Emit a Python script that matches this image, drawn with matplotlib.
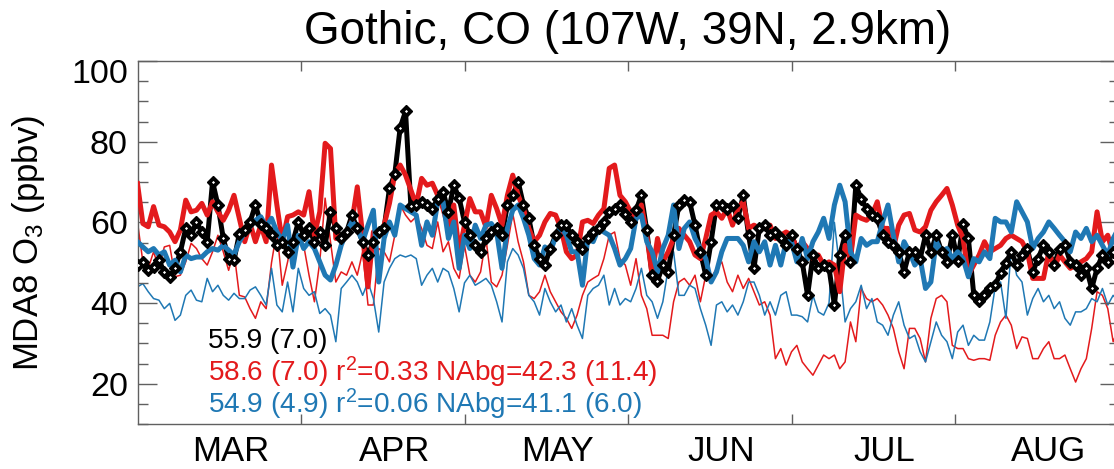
import numpy as np
import matplotlib
matplotlib.use("Agg")
import matplotlib.pyplot as plt
import matplotlib.transforms as mtransforms
from matplotlib.ticker import MultipleLocator, FixedLocator

plt.rcParams['font.family'] = ['Liberation Sans', 'DejaVu Sans']
plt.rcParams['mathtext.fontset'] = 'custom'
plt.rcParams['mathtext.rm'] = 'Liberation Sans'
plt.rcParams['mathtext.it'] = 'Liberation Sans:italic'
plt.rcParams['mathtext.bf'] = 'Liberation Sans:bold'

# daily MDA8 O3 (ppbv), 1 Mar - 31 Aug
obs = [49.4, 50.2, 48.1, 49.0, 50.6, 47.7, 46.5, 48.6, 52.7, 58.5, 56.8, 60.1, 57.6, 55.2, 70.1,
       64.3, 56.0, 51.0, 50.6, 57.2, 58.1, 60.1, 64.3, 59.7, 58.5, 56.8, 54.3, 55.2, 52.7, 55.2,
       60.1, 56.8, 58.5, 55.2, 57.6, 54.3, 62.6, 58.5, 56.0, 57.6, 61.8, 58.5, 55.2, 51.9, 55.2,
       57.6, 58.5, 68.4, 72.0, 83.5, 87.5, 64.0, 64.3, 65.1, 64.3, 63.4, 65.9, 67.6, 62.6, 69.2,
       66.0, 60.1, 56.8, 54.3, 52.7, 56.0, 57.6, 58.5, 56.8, 64.3, 66.7, 70.1, 64.3, 61.0, 54.3,
       51.0, 49.5, 53.5, 56.8, 59.3, 59.3, 56.8, 55.2, 53.5, 56.0, 57.6, 58.5, 60.1, 62.6, 63.4,
       64.3,
       62.0, 60.0, 63.0, 66.7, 58.0, 47.0, 45.5, 49.4, 47.7, 56.8, 64.3, 65.5, 65.1, 59.3, 52.7,
       46.9, 55.2, 64.3, 64.3, 63.4, 64.3, 61.0, 66.7, 56.8, 48.6, 58.5, 59.3, 56.8, 57.6, 56.0,
       54.3,
       56.8, 53.5, 50.2, 41.9, 51.9, 48.6, 49.4, 48.6, 39.5, 51.9, 56.8, 50.2, 69.2, 65.9, 63.4,
       61.8, 61.0, 56.8, 55.2, 54.3, 52.7, 47.7, 52.7, 52.7, 51.0, 56.8, 52.7, 56.8, 52.7, 50.2,
       56.8, 50.5, 59.5, 56.0, 42.0, 40.5, 42.0, 43.6, 44.4, 47.5, 50.0, 52.7, 49.4, 51.9, 53.5,
       47.7, 51.0, 54.3, 52.7, 49.4, 53.5, 54.3, 50.2, 49.4, 46.9, 48.6, 43.6, 48.6, 51.9, 50.2,
       52.7, 53.5]

model_red = [69.6, 59.7, 58.9, 63.9, 59.3, 58.9, 57.6, 55.2, 58.1, 65.5, 62.6, 63.0, 64.7, 61.8, 65.1,
             62.6, 60.5, 63.0, 66.7, 61.0, 55.2, 59.7, 55.2, 59.3, 55.2, 74.2, 64.3, 55.2, 61.4, 61.8,
             62.6, 61.8, 67.6, 56.8, 62.6, 79.6, 78.3, 56.0, 56.8, 56.8, 60.1, 68.8, 56.8, 44.0, 57.6,
             56.8, 59.3, 64.7, 72.0, 74.2, 71.7, 68.0, 64.3, 70.9, 69.2, 69.7, 66.7, 63.4, 58.5, 64.3,
             52.7, 59.3, 65.9, 62.6, 62.6, 58.9, 66.7, 63.4, 59.3, 66.7, 71.7, 66.7, 63.4, 58.5, 55.2,
             56.8, 60.1, 62.2, 61.8, 58.5, 52.7, 51.0, 51.9, 60.1, 60.5, 59.7, 61.8, 63.4, 73.4, 74.2,
             66.7,
             65.1, 62.6, 61.0, 64.3, 56.8, 46.9, 56.0, 50.2, 52.7, 56.0, 58.5, 56.8, 55.2, 51.9, 51.0,
             56.0, 61.8, 62.6, 61.0, 63.4, 59.3, 63.4, 65.1, 58.5, 59.3, 58.5, 58.5, 59.3, 56.0, 56.8,
             57.6,
             56.8, 53.5, 55.2, 53.5, 51.0, 51.9, 49.4, 50.2, 49.4, 42.8, 54.3, 51.0, 61.8, 61.0, 60.5,
             61.8, 65.1, 58.5, 58.5, 53.5, 59.3, 61.8, 62.2, 58.1, 57.6, 58.9, 63.0, 65.1, 66.7, 68.4,
             64.3, 59.3, 56.0, 46.9, 49.4, 51.9, 55.2, 52.7, 53.5, 54.3, 56.0, 56.8, 56.0, 55.2, 52.7,
             46.1, 46.1, 46.1, 52.7, 48.6, 51.9, 50.2, 48.6, 49.4, 50.2, 51.0, 52.7, 62.6, 55.2, 56.8,
             51.9, 55.2]

model_blue = [55.2, 53.9, 52.7, 53.5, 51.9, 52.7, 49.4, 50.6, 47.7, 51.9, 51.0, 51.4, 51.4, 52.7, 53.5,
              53.1, 54.3, 53.1, 51.9, 55.2, 57.6, 58.9, 60.5, 61.4, 58.9, 61.0, 57.6, 55.6, 59.3, 48.9,
              56.8, 53.5, 55.2, 53.5, 50.2, 46.9, 45.7, 49.4, 54.3, 57.6, 60.1, 58.5, 55.2, 59.3, 63.0,
              45.2, 56.0, 60.1, 56.8, 64.3, 63.4, 62.6, 61.8, 54.3, 60.1, 56.8, 65.1, 65.1, 56.0, 60.1,
              48.6, 56.8, 53.5, 59.3, 56.0, 59.3, 59.7, 57.6, 48.6, 58.5, 63.0, 64.3, 61.0, 56.8, 51.0,
              49.4, 53.9, 52.7, 56.4, 58.9, 56.8, 52.7, 52.7, 44.4, 56.0, 55.2, 58.5, 57.6, 56.8, 53.5,
              49.4,
              51.0, 53.5, 61.0, 61.8, 55.2, 52.7, 47.7, 53.5, 56.8, 64.3, 53.5, 58.5, 60.1, 56.0, 53.5,
              51.0, 45.2, 47.7, 52.7, 56.0, 56.0, 56.0, 54.3, 50.2, 55.2, 52.7, 55.2, 49.4, 54.3, 49.4,
              55.2,
              55.2, 50.2, 56.0, 51.0, 55.2, 57.6, 61.0, 56.0, 64.3, 69.2, 65.1, 52.7, 50.2, 56.0, 54.3,
              55.2, 55.2, 60.1, 64.3, 56.8, 50.2, 55.2, 52.7, 49.4, 51.0, 43.6, 45.2, 55.2, 52.7, 53.5,
              51.0, 52.7, 51.0, 46.5, 51.0, 50.2, 52.7, 51.0, 61.0, 60.1, 60.1, 57.6, 65.1, 62.6, 60.1,
              53.5, 56.0, 57.6, 60.1, 58.5, 56.8, 55.2, 52.7, 57.6, 56.0, 58.5, 55.2, 56.8, 54.3, 51.9,
              56.0, 58.5]

nabg_red = [60.0, 50.2, 48.6, 52.7, 48.6, 53.9, 54.3, 46.5, 46.9, 50.2, 54.8, 53.5, 51.0, 49.4, 52.7,
            56.8, 52.7, 48.1, 52.7, 41.9, 41.5, 38.6, 36.2, 40.3, 38.6, 50.0, 58.0, 44.4, 50.2, 56.8,
            56.8, 54.3, 46.9, 40.3, 50.2, 66.0, 55.2, 45.2, 47.7, 46.9, 50.2, 46.9, 52.7, 39.5, 39.5,
            53.5, 52.7, 50.2, 56.8, 64.3, 61.8, 60.1, 61.4, 58.5, 54.3, 53.5, 60.1, 52.7, 55.2, 48.6,
            46.1, 54.3, 46.9, 45.2, 47.7, 56.0, 45.2, 44.0, 46.9, 54.3, 62.2, 55.2, 50.2, 41.9, 41.1,
            42.8, 46.9, 42.8, 40.3, 37.8, 36.2, 33.7, 37.0, 41.9, 45.2, 46.1, 46.9, 51.0, 56.8, 57.6,
            51.0,
            49.4, 44.4, 51.0, 41.9, 38.6, 32.0, 32.0, 32.0, 31.2, 40.3, 45.2, 46.1, 44.4, 46.9, 40.3,
            46.9, 46.1, 48.6, 50.2, 45.2, 42.8, 46.9, 43.6, 46.1, 42.8, 39.5, 40.3, 37.0, 26.2, 28.7,
            24.6,
            27.9, 29.5, 25.4, 23.7, 22.1, 24.6, 27.1, 26.2, 27.1, 23.7, 25.4, 35.3, 30.4, 43.6, 41.1,
            40.3, 41.1, 39.5, 37.0, 33.7, 27.9, 23.7, 33.7, 33.7, 31.2, 25.4, 36.2, 41.1, 41.9, 40.3,
            29.5, 28.7, 28.7, 26.2, 25.8, 26.2, 26.2, 25.8, 32.0, 35.3, 37.0, 34.5, 28.7, 31.6, 31.2,
            26.2, 26.2, 28.7, 30.4, 26.2, 26.2, 27.1, 23.7, 20.4, 23.7, 26.2, 33.7, 42.8, 41.9, 38.6,
            30.4, 33.7]

nabg_blue = [44.0, 44.8, 42.8, 41.1, 40.7, 38.6, 39.9, 35.7, 37.0, 41.9, 43.2, 40.7, 40.3, 46.1, 42.8,
             44.4, 41.9, 40.7, 42.4, 41.1, 41.1, 43.2, 44.0, 41.9, 39.5, 48.6, 39.5, 37.8, 45.2, 37.8,
             48.6, 43.6, 41.9, 42.8, 37.4, 38.6, 37.0, 30.4, 43.6, 45.2, 46.9, 45.2, 41.9, 45.2, 41.1,
             32.8, 45.2, 48.6, 51.0, 51.9, 51.4, 51.9, 51.0, 44.4, 46.9, 48.6, 45.2, 48.6, 47.7, 43.6,
             37.8, 45.0, 46.9, 44.4, 45.2, 46.1, 44.4, 40.3, 35.3, 50.2, 53.5, 51.9, 48.6, 41.9, 40.3,
             37.0, 43.6, 40.3, 37.8, 39.5, 35.3, 38.6, 34.5, 31.2, 41.9, 43.6, 44.4, 46.9, 39.5, 43.6,
             39.5,
             41.1, 40.3, 43.6, 48.6, 41.9, 40.3, 36.2, 40.3, 48.6, 52.7, 41.9, 41.9, 44.4, 43.6, 38.6,
             34.5, 29.5, 39.5, 40.3, 37.8, 39.5, 37.0, 40.3, 45.2, 45.2, 41.9, 37.0, 40.3, 37.0, 41.9,
             42.8,
             37.0, 37.0, 36.6, 35.3, 41.9, 37.8, 37.0, 40.0, 60.0, 48.6, 35.3, 38.6, 40.3, 44.4, 38.6,
             41.1, 35.3, 34.5, 32.0, 37.0, 40.3, 34.5, 31.2, 32.0, 27.9, 25.4, 30.4, 35.3, 32.0, 30.4,
             26.2, 32.8, 34.5, 29.5, 32.0, 30.8, 30.8, 35.3, 44.0, 45.2, 36.2, 53.5, 46.9, 45.2, 37.0,
             41.1, 43.6, 40.3, 41.9, 38.6, 40.3, 36.2, 34.5, 37.8, 37.8, 38.6, 41.1, 40.3, 43.6, 39.5,
             41.9, 40.3]

months = ['MAR', 'APR', 'MAY', 'JUN', 'JUL', 'AUG']
stats = ['55.9 (7.0)',
         '58.6 (7.0) r$^2$=0.33 NAbg=42.3 (11.4)',
         '54.9 (4.9) r$^2$=0.06 NAbg=41.1 (6.0)']

RED = '#e31a1c'
BLUE = '#1f78b4'
AXC = '#606060'

days = np.arange(len(obs))

fig = plt.figure(figsize=(11.14, 4.69), dpi=100)
ax = fig.add_axes([137.5 / 1114, 45 / 469, 981 / 1114, 363 / 469])

ax.plot(days, nabg_red, color=RED, lw=1.1, zorder=1)
ax.plot(days, nabg_blue, color=BLUE, lw=1.1, zorder=1)
ax.plot(days, obs, color='black', lw=3.6, zorder=2)
ax.plot(days, model_red, color=RED, lw=3.6, zorder=3)
ax.plot(days, model_blue, color=BLUE, lw=3.6, zorder=4)
# obs diamonds: black with a small white centre
ax.plot(days, obs, ls='none', marker='D', ms=6.5, mfc='black', mec='black', mew=1, zorder=5)
ax.plot(days, obs, ls='none', marker='D', ms=1.6, mfc='white', mec='white', mew=0, zorder=6)

ax.set_xlim(0, len(obs) - 1)
ax.set_ylim(10, 100)

mlen = (len(obs) - 1) / 6.0
ax.xaxis.set_major_locator(FixedLocator([mlen * k for k in range(1, 6)]))
ax.xaxis.set_minor_locator(FixedLocator([mlen * k + 17.4 for k in range(6)]))
ax.set_xticklabels([], minor=False)
ax.set_xticklabels(months, minor=True)
ax.set_yticks([20, 40, 60, 80, 100])
ax.yaxis.set_minor_locator(MultipleLocator(5))

ax.tick_params(axis='x', which='major', direction='in', top=True, length=7, width=1, color=AXC)
ax.tick_params(axis='x', which='minor', length=0, labelsize=25, pad=8)
ax.tick_params(axis='y', which='major', direction='in', right=True, length=13.5, width=1,
               color=AXC, labelsize=24.5, pad=7)
ax.tick_params(axis='y', which='minor', direction='in', right=True, length=7, width=1, color=AXC)
for s in ax.spines.values():
    s.set_color(AXC)
    s.set_linewidth(1)

# top label sits below the axis corner
top_lbl = ax.yaxis.get_major_ticks()[-1].label1
top_lbl.set_transform(top_lbl.get_transform() +
                      mtransforms.ScaledTranslation(0, -0.1, fig.dpi_scale_trans))

ax.set_title('Gothic, CO (107W, 39N, 2.9km)', fontsize=33, pad=12)
ax.set_ylabel('MDA8 O$_3$ (ppbv)', fontsize=25)
ax.yaxis.set_label_coords(-0.092, 0.5)

for txt, col, yy in zip(stats, ['black', RED, BLUE], [0.208, 0.119, 0.030]):
    ax.text(0.0716, yy, txt, color=col, fontsize=20.2, transform=ax.transAxes, va='baseline')

fig.savefig('out.png', dpi=100)
